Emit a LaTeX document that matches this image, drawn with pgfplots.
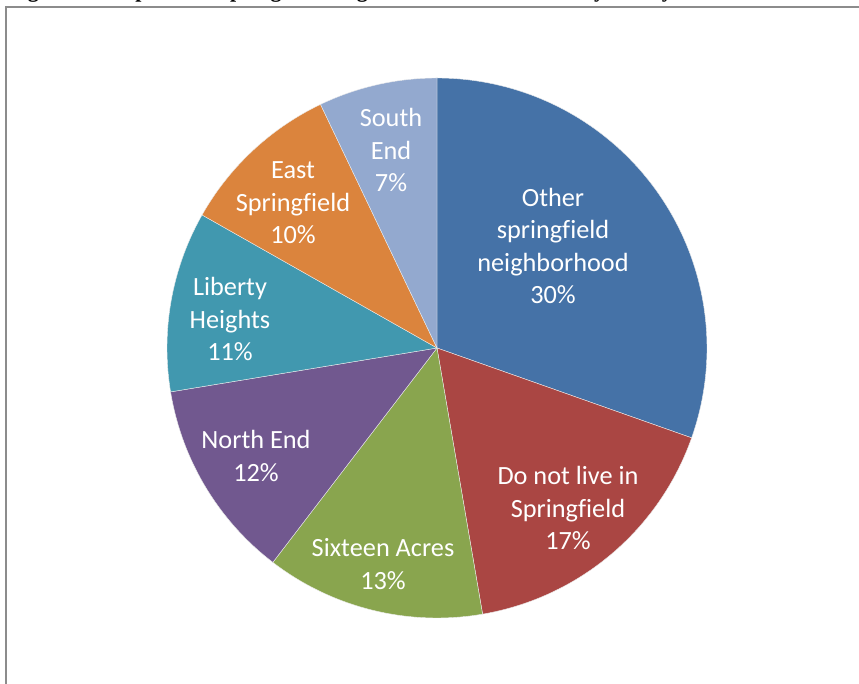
\documentclass[border=0pt]{standalone}
\usepackage{pgfplots}
\pgfplotsset{compat=1.18}
\usepackage{pgfplotstable}
\usepackage{fontspec}
\setmainfont{Carlito}[Ligatures=NoCommon]
\newfontfamily\titlefont{Liberation Serif}

\definecolor{cblue}{HTML}{4572A7}
\definecolor{cred}{HTML}{AA4643}
\definecolor{cgreen}{HTML}{89A54E}
\definecolor{cpurple}{HTML}{71588F}
\definecolor{cteal}{HTML}{4198AF}
\definecolor{corange}{HTML}{DB843D}
\definecolor{clblue}{HTML}{93A9CF}
\definecolor{frame}{HTML}{8C8C8C}

\pgfplotstableread{
pct col
30.4 cblue
16.9 cred
13.1 cgreen
12.0 cpurple
10.8 cteal
9.7 corange
7.1 clblue
}\piedata

\begin{document}
\begin{tikzpicture}
\useasboundingbox (0,0) rectangle (859pt,684pt);
\clip (0,0) rectangle (859pt,684pt);
\begin{axis}[
  at={(0,0)}, anchor=origin,
  scale only axis, width=859pt, height=684pt,
  xmin=0, xmax=859, ymin=0, ymax=684,
  hide axis, clip=false,
]
\def\cum{0}
\pgfplotsforeachungrouped \i in {0,...,6}{
  \pgfplotstablegetelem{\i}{pct}\of\piedata \let\p\pgfplotsretval
  \pgfplotstablegetelem{\i}{col}\of\piedata \let\c\pgfplotsretval
  \pgfmathsetmacro\a{90-3.6*\cum}
  \pgfmathsetmacro\b{90-3.6*(\cum+\p)}
  \edef\doplot{\noexpand\addplot[fill=\c, draw=white!85!gray, line width=0.4pt, domain=\b:\a, samples=90, variable=\noexpand\t]
    ({437+270*cos(\noexpand\t)},{336+270*sin(\noexpand\t)}) -- (axis cs:437,336) -- cycle;}
  \doplot
  \pgfmathsetmacro\cum{\cum+\p}
}
\begin{scope}[every node/.style={text=white, align=center, font=\fontsize{26.3}{32.5}\selectfont}]
\node at (axis cs:553,438) {Other\\springfield\\neighborhood\\30\%};
\node at (axis cs:568,176) {Do not live in\\Springfield\\17\%};
\node at (axis cs:383,120) {Sixteen Acres\\13\%};
\node at (axis cs:256,228) {North End\\12\%};
\node at (axis cs:230,365) {Liberty\\Heights\\11\%};
\node at (axis cs:293,481) {East\\Springfield\\10\%};
\node at (axis cs:391,534) {South\\End\\7\%};
\end{scope}
\end{axis}
\draw[frame, line width=2pt] (5.5pt,-5pt) -- (5.5pt,676.5pt) -- (870pt,676.5pt);
\node[anchor=base west, inner sep=0pt, font=\titlefont\bfseries\fontsize{22}{26}\selectfont] at (8pt,686.8pt)
  {Figure 3: Respondent Springfield neighborhood of residence by survey};
\end{tikzpicture}
\end{document}
